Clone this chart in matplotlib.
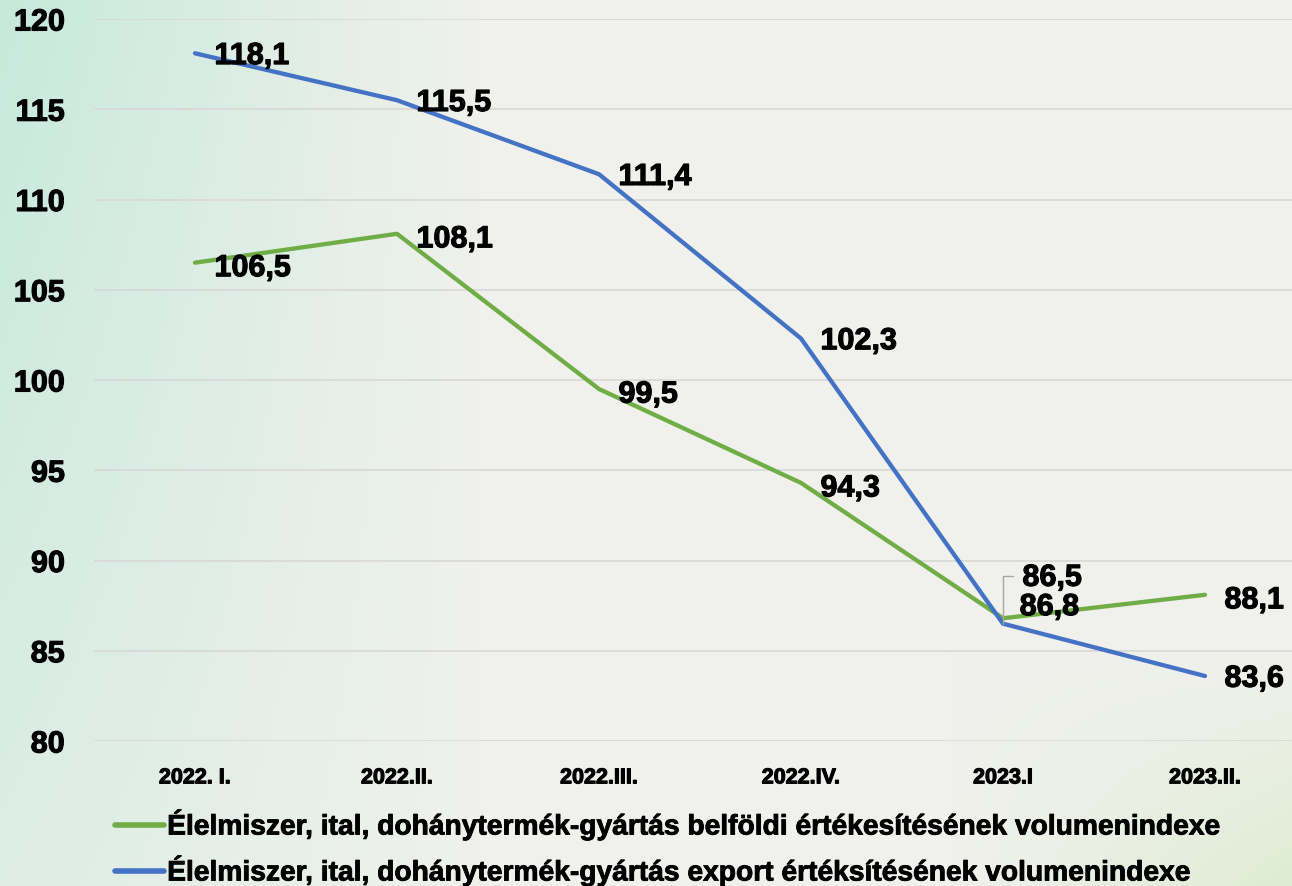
import numpy as np
import matplotlib
matplotlib.use("Agg")
import matplotlib.pyplot as plt
from matplotlib import font_manager as fm
import matplotlib.patheffects as pe

categories = ["2022. I.", "2022.II.", "2022.III.", "2022.IV.", "2023.I", "2023.II."]
domestic = [106.5, 108.1, 99.5, 94.3, 86.8, 88.1]
export = [118.1, 115.5, 111.4, 102.3, 86.5, 83.6]
domestic_labels = ["106,5", "108,1", "99,5", "94,3", "86,8", "88,1"]
export_labels = ["118,1", "115,5", "111,4", "102,3", "86,5", "83,6"]
series_names = [
    "Élelmiszer, ital, dohánytermék-gyártás belföldi értékesítésének volumenindexe",
    "Élelmiszer, ital, dohánytermék-gyártás export értéksítésének volumenindexe",
]
yticks = [80, 85, 90, 95, 100, 105, 110, 115, 120]

names = {f.name for f in fm.fontManager.ttflist}
main_font = "Liberation Sans" if "Liberation Sans" in names else "DejaVu Sans"

W, H = 1292, 887
fig = plt.figure(figsize=(W / 100, H / 100), dpi=100)

# background gradient
bg = fig.add_axes([0, 0, 1, 1], zorder=-10)
yy, xx = np.mgrid[0:H, 0:W].astype(float)
base = np.array([240, 241, 236], float)
teal = np.array([198, 233, 220], float)
green = np.array([220, 236, 208], float)
w1 = np.clip(1 - xx / 480, 0, 1) * (1 - 0.55 * yy / H)
w2 = np.clip((xx - 950) / 342, 0, 1) * np.clip((yy - 650) / 237, 0, 1) * 0.9
img = base * (1 - w1[..., None] - w2[..., None]) + teal * w1[..., None] + green * w2[..., None]
bg.imshow(np.clip(img, 0, 255).astype(np.uint8), aspect="auto", extent=[0, 1, 0, 1])
bg.axis("off")

left = 94 / W
right = 1306 / W
top = 1 - 20 / H
bottom = 1 - 742 / H
ax = fig.add_axes([left, bottom, right - left, top - bottom])
ax.set_facecolor("none")

stroke = [pe.withStroke(linewidth=0.8, foreground="black")]

x = np.arange(len(categories))
green_c = "#70ad47"
blue_c = "#4472c4"
l1, = ax.plot(x, domestic, color=green_c, lw=3.1, solid_capstyle="round", zorder=3)
l2, = ax.plot(x, export, color=blue_c, lw=3.1, solid_capstyle="round", zorder=3)

ax.set_xlim(-0.5, len(categories) - 0.5)
ax.set_ylim(80, 120)
ax.set_yticks(yticks)
ax.yaxis.grid(True, color="#d9d9d9", lw=1.3)
ax.set_axisbelow(True)
for s in ax.spines.values():
    s.set_visible(False)
ax.tick_params(axis="both", length=0)
ax.tick_params(axis="y", pad=21)
ax.tick_params(axis="x", pad=19)
ax.set_yticklabels([str(v) for v in yticks], fontsize=22, fontweight="bold", family=main_font)
ax.set_xticks(x)
ax.set_xticklabels(categories, fontsize=15.5, fontweight="bold", family=main_font)
for t in ax.get_yticklabels() + ax.get_xticklabels():
    t.set_path_effects(stroke)

lab_kw = dict(fontsize=22, fontweight="bold", family=main_font, color="black",
              textcoords="offset points", ha="left", va="center", zorder=5,
              path_effects=stroke)
for i, (v, t) in enumerate(zip(domestic, domestic_labels)):
    if i == 4:
        ax.annotate(t, (x[i], v), xytext=(12, 8), **lab_kw)
    else:
        ax.annotate(t, (x[i], v), xytext=(14, -4), **lab_kw)
for i, (v, t) in enumerate(zip(export, export_labels)):
    if i == 4:
        ax.annotate(t, (x[i], v), xytext=(14, 33), **lab_kw)
        # leader line
        ax.annotate("", (x[i], v), xytext=(7, 34), textcoords="offset points",
                    arrowprops=dict(arrowstyle="-", color="#a6a6a6", lw=1,
                                    connectionstyle="angle,angleA=0,angleB=90,rad=0",
                                    shrinkA=0, shrinkB=0))
    else:
        ax.annotate(t, (x[i], v), xytext=(14, -2), **lab_kw)

leg = fig.legend([l1, l2], series_names, loc="upper left",
                 bbox_to_anchor=(115 / W, 1 - 811 / H), frameon=False,
                 prop=dict(family=main_font, weight="bold", size=20.3),
                 handlelength=1.75, handletextpad=0.1,
                 borderpad=0, borderaxespad=0, labelspacing=0.55)
for t in leg.get_texts():
    t.set_path_effects([pe.withStroke(linewidth=0.6, foreground="black")])
for h in leg.legend_handles:
    h.set_linewidth(4)

fig.savefig("out.png", dpi=100)
